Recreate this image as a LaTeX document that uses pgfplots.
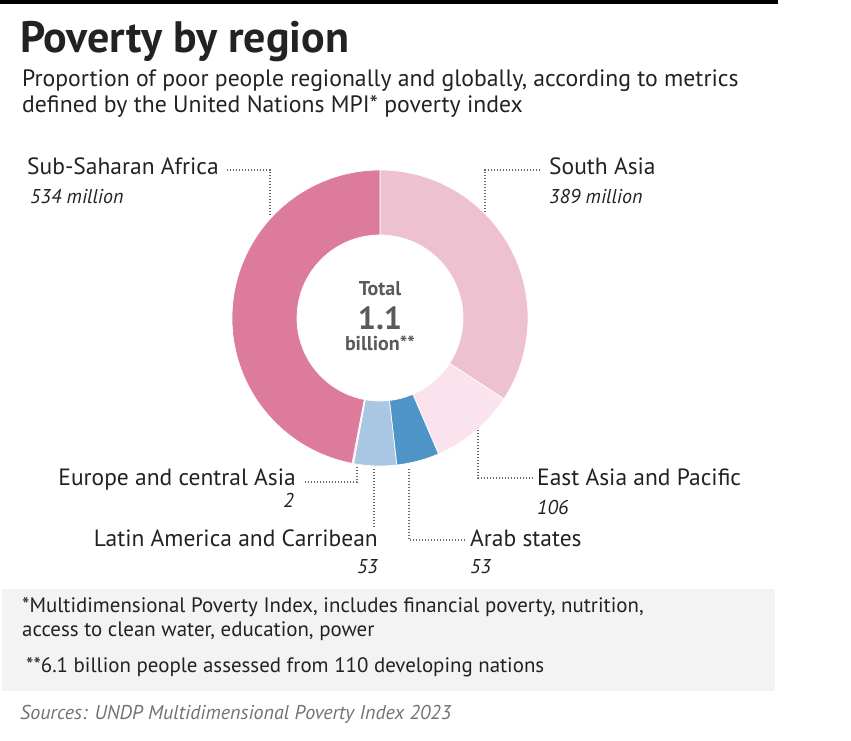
\documentclass[border=0pt]{standalone}
\usepackage{pgfplots}
\pgfplotsset{compat=1.18}
\usepackage{fontspec}
\setmainfont{PT Sans}
\definecolor{cSS}{HTML}{DD7B9D}
\definecolor{cSA}{HTML}{EEC1D1}
\definecolor{cEA}{HTML}{FBE3EE}
\definecolor{cAR}{HTML}{4E94C6}
\definecolor{cLA}{HTML}{A9C7E2}
\definecolor{cEU}{HTML}{F2DCE6}
\definecolor{txt}{HTML}{222222}
\definecolor{ctr}{HTML}{5A5A5A}
\definecolor{lead}{HTML}{666666}
\definecolor{boxbg}{HTML}{F3F3F3}
% values (million people)
\def\vSA{389}\def\vEA{106}\def\vAR{53}\def\vLA{53}\def\vEU{2}\def\vSS{534}
\pgfmathsetmacro\tot{\vSA+\vEA+\vAR+\vLA+\vEU+\vSS}
\pgfmathsetmacro\aA{90}
\pgfmathsetmacro\aB{\aA-360*(\vSA/\tot)}
\pgfmathsetmacro\aC{\aB-360*(\vEA/\tot)}
\pgfmathsetmacro\aD{\aC-360*(\vAR/\tot)}
\pgfmathsetmacro\aE{\aD-360*(\vLA/\tot)}
\pgfmathsetmacro\aF{\aE-360*(\vEU/\tot)}
\pgfmathsetmacro\aG{\aF-360*(\vSS/\tot)}
\newcommand\seg[3]{\fill[#3, draw=white, line width=0.7pt]
  (axis cs:{148*cos(#1)},{148*sin(#1)}) arc[start angle=#1, end angle=#2, radius=148pt]
  -- (axis cs:{83*cos(#2)},{83*sin(#2)}) arc[start angle=#2, end angle=#1, radius=83pt] -- cycle;}
\tikzset{leader/.style={lead, line width=1.1pt, dash pattern=on 1.1pt off 1.9pt}}
\begin{document}
\begin{tikzpicture}[x=1pt,y=-1pt]
\path[use as bounding box] (0,0) rectangle (851,741);
\fill[black] (0,0) rectangle (778,4);
\fill[boxbg] (2,589) rectangle (775,691);
\node[anchor=base west, inner sep=0, text=txt, font=\fontsize{44}{48}\selectfont\bfseries] at (20,53) {Poverty by region};
\node[anchor=base west, inner sep=0, text=txt, font=\fontsize{23.7}{26}\selectfont] at (22,87) {Proportion of poor people regionally and globally, according to metrics};
\node[anchor=base west, inner sep=0, text=txt, font=\fontsize{23.7}{26}\selectfont] at (22,113) {defined by the United Nations MPI* poverty index};
\begin{axis}[at={(380pt,-318pt)}, anchor=center, x=1pt, y=1pt, scale only axis,
  xmin=-150, xmax=150, ymin=-150, ymax=150, hide axis, clip=false]
\seg{\aA}{\aB}{cSA}
\seg{\aB}{\aC}{cEA}
\seg{\aC}{\aD}{cAR}
\seg{\aD}{\aE}{cLA}
\seg{\aE}{\aF}{cEU}
\seg{\aF}{\aG}{cSS}
\end{axis}
\node[text=ctr, font=\fontsize{20}{22}\selectfont\bfseries] at (380,289) {Total};
\node[text=ctr, font=\fontsize{32}{34}\selectfont\bfseries] at (380,318) {1.1};
\node[text=ctr, font=\fontsize{20}{22}\selectfont\bfseries] at (380,343) {billion**};
% leaders
\draw[leader] (227,170) -- (270,170) -- (270,216);
\draw[leader] (540,170) -- (485,170) -- (485,212);
\draw[leader] (533,478) -- (478,478) -- (478,428);
\draw[leader] (305,482) -- (357,482) -- (357,467);
\draw[leader] (374,469) -- (374,528);
\draw[leader] (409,469) -- (409,540) -- (465,540);
% labels
\tikzset{lab/.style={inner sep=0, text=txt, font=\fontsize{23.5}{26}\selectfont},
         num/.style={inner sep=0, text=txt, font=\fontsize{20}{22}\selectfont\itshape}}
\node[lab, anchor=base west] at (27,175) {Sub-Saharan Africa};
\node[num, anchor=base west] at (30,203) {534 million};
\node[lab, anchor=base west] at (549,175) {South Asia};
\node[num, anchor=base west] at (549,203) {389 million};
\node[lab, anchor=base west] at (537,485) {East Asia and Pacific};
\node[num, anchor=base west] at (537,514) {106};
\node[lab, anchor=base east] at (296,485) {Europe and central Asia};
\node[num, anchor=base east] at (294,507) {2};
\node[lab, anchor=base east] at (378,546) {Latin America and Carribean};
\node[num, anchor=base east] at (378,573) {53};
\node[lab, anchor=base west] at (470,546) {Arab states};
\node[num, anchor=base west] at (470,573) {53};
% footnotes
\tikzset{foot/.style={inner sep=0, anchor=base west, text=txt, font=\fontsize{20.9}{22}\selectfont}}
\node[foot] at (22,612) {*Multidimensional Poverty Index, includes financial poverty, nutrition,};
\node[foot] at (22,636) {access to clean water, education, power};
\node[foot] at (26,672) {**6.1 billion people assessed from 110 developing nations};
\node[inner sep=0, anchor=base west, text=black!55, font=\fontsize{20}{22}\selectfont\itshape] at (20,719) {Sources: UNDP Multidimensional Poverty Index 2023};
\end{tikzpicture}
\end{document}
